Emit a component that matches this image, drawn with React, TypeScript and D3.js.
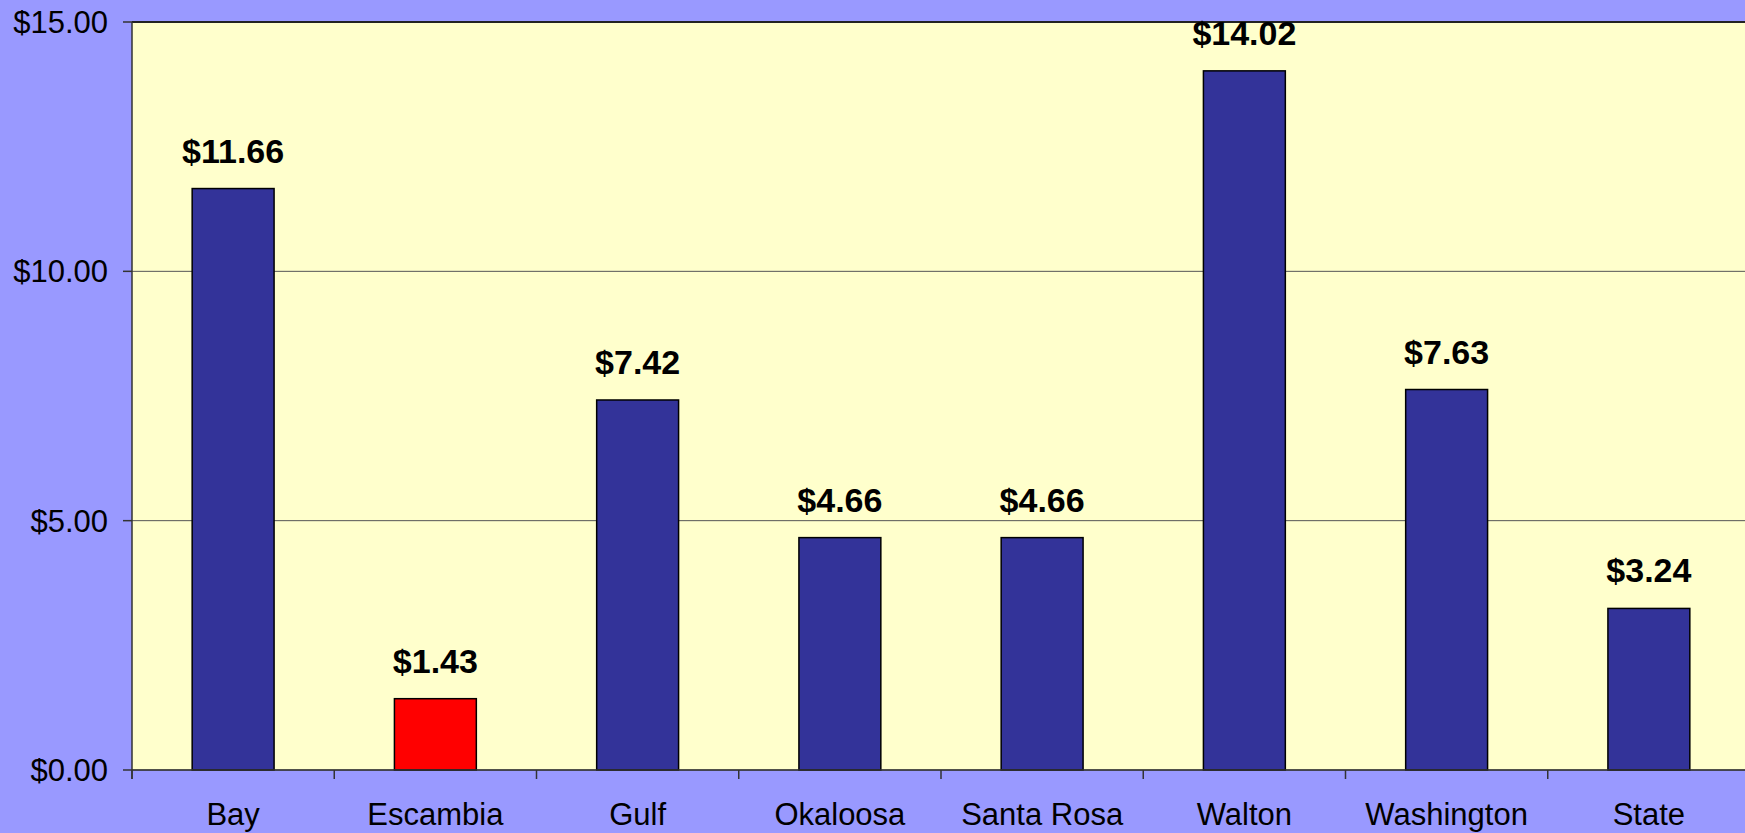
import React from "react";
import * as d3 from "d3";

const categories = ["Bay", "Escambia", "Gulf", "Okaloosa", "Santa Rosa", "Walton", "Washington", "State"];
const values = [11.66, 1.43, 7.42, 4.66, 4.66, 14.02, 7.63, 3.24];
const highlighted = ["Escambia"];
const yTicks = [0, 5, 10, 15];

const W = 1745;
const H = 833;
const margin = { left: 132, top: 22, right: -5, bottom: 63 };

export default function App() {
  const x = d3
    .scaleBand<string>()
    .domain(categories)
    .range([margin.left, W - margin.right])
    .paddingInner(0)
    .paddingOuter(0);
  const y = d3.scaleLinear().domain([0, 15]).range([H - margin.bottom, margin.top]);
  const fmt = (v: number) => "$" + d3.format(".2f")(v);
  const barW = x.bandwidth() * 0.405;
  const font = "Arial, 'Liberation Sans', Helvetica, sans-serif";

  return (
    <div style={{ position: "fixed", left: 0, top: 0 }}>
      <svg width={W} height={H} style={{ display: "block" }}>
        <rect x={0} y={0} width={W} height={H} fill="#9999FF" />
        <rect
          x={margin.left}
          y={margin.top}
          width={W - margin.right - margin.left}
          height={y(0) - y(15)}
          fill="#FFFFCC"
        />
        {yTicks.map((t) => (
          <g key={t}>
            <line x1={margin.left} x2={W} y1={y(t)} y2={y(t)} stroke={t === 15 ? "#222" : "#555"} strokeWidth={t === 15 ? 2 : 1} />
            <line x1={margin.left - 9} x2={margin.left} y1={y(t)} y2={y(t)} stroke="#333" strokeWidth={1.5} />
            <text
              x={108}
              y={y(t)}
              dy="0.36em"
              textAnchor="end"
              fontFamily={font}
              fontSize={31}
              fill="#000"
            >
              {fmt(t)}
            </text>
          </g>
        ))}
        {categories.map((c, i) => {
          const v = values[i];
          const cx = (x(c) as number) + x.bandwidth() / 2;
          return (
            <g key={c}>
              <rect
                x={cx - barW / 2}
                y={y(v)}
                width={barW}
                height={y(0) - y(v)}
                fill={highlighted.includes(c) ? "#FF0000" : "#333399"}
                stroke="#000"
                strokeWidth={1.5}
              />
              <text
                x={cx}
                y={y(v) - 26}
                textAnchor="middle"
                fontFamily={font}
                fontWeight="bold"
                fontSize={34}
                fill="#000"
              >
                {fmt(v)}
              </text>
              <text x={cx} y={825} textAnchor="middle" fontFamily={font} fontSize={31} fill="#000">
                {c}
              </text>
            </g>
          );
        })}
        {categories.map((c) => (
          <line
            key={"t" + c}
            x1={x(c) as number}
            x2={x(c) as number}
            y1={y(0)}
            y2={y(0) + 9}
            stroke="#333"
            strokeWidth={1.5}
          />
        ))}
        <line x1={margin.left} x2={W} y1={y(0)} y2={y(0)} stroke="#333" strokeWidth={1.5} />
        <line x1={margin.left} x2={margin.left} y1={margin.top} y2={y(0) + 9} stroke="#333" strokeWidth={1.5} />
      </svg>
    </div>
  );
}
